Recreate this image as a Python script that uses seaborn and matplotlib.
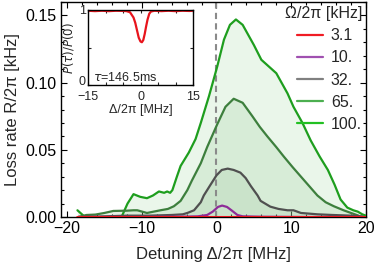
import numpy as np
import pandas as pd
import matplotlib
matplotlib.use("Agg")
import matplotlib.pyplot as plt
from matplotlib.lines import Line2D
from matplotlib.ticker import MultipleLocator
import seaborn as sns

# loss rate vs detuning for each Rabi frequency (kHz)
omega_labels = ['3.1', '10.', '32.', '65.', '100.']

d3 = [-18.7, -10.0, 0.0, 10.0, 20.0]
r3 = [0.0003, 0.0003, 0.0003, 0.0003, 0.0003]

d10 = [-18.5, -10.0, -4.0, -2.5, -1.25, -0.5, 0.2, 0.75, 1.4, 2.0, 2.8, 3.5, 6.0, 12.0, 19.5]
r10 = [0.0, 0.0, 0.0003, 0.0005, 0.0015, 0.004, 0.0075, 0.0085, 0.0075, 0.005, 0.0015, 0.0005, 0.0002, 0.0, 0.0]

d32 = [-18.5, -15.0, -12.0, -9.0, -6.0, -4.5, -3.9, -3.0, -2.1, -1.7, -0.8, 0.0, 0.7, 1.5, 2.3,
       3.2, 3.9, 4.6, 5.5, 5.9, 7.2, 8.3, 9.5, 10.3, 11.3, 13.5, 15.5, 18.0, 19.5]
r32 = [0.0, 0.0005, 0.001, 0.001, 0.0015, 0.002, 0.003, 0.005, 0.011, 0.016, 0.024, 0.031, 0.035, 0.036, 0.035,
       0.033, 0.029, 0.023, 0.016, 0.012, 0.0077, 0.006, 0.005, 0.005, 0.003, 0.002, 0.0015, 0.001, 0.0005]

d65 = [-18.5, -17.4, -16.2, -15.0, -13.8, -12.0, -11.1, -10.6, -9.3, -8.4, -7.5, -6.5, -5.7, -4.8, -3.9,
       -3.3, -2.1, -1.25, 0.1, 1.2, 2.3, 3.5, 4.8, 5.8, 6.8, 8.0, 9.0, 10.2, 11.3, 12.4, 13.5, 14.6,
       15.7, 17.0, 18.0, 19.0]
r65 = [0.0, 0.0015, 0.0018, 0.003, 0.0045, 0.0047, 0.005, 0.005, 0.003, 0.004, 0.005, 0.006, 0.008, 0.012, 0.020,
       0.027, 0.040, 0.052, 0.069, 0.082, 0.088, 0.085, 0.075, 0.067, 0.060, 0.052, 0.045, 0.037, 0.030, 0.023,
       0.016, 0.011, 0.008, 0.005, 0.003, 0.001]

d100 = [-18.6, -17.6, -16.5, -14.0, -12.7, -11.9, -11.1, -10.2, -9.3, -8.5, -7.7, -7.0, -6.6, -6.2, -5.9,
        -5.3, -4.8, -3.7, -2.8, -2.1, -1.0, 0.1, 1.0, 1.8, 2.6, 3.5, 4.3, 5.0, 6.0, 7.2, 8.0, 8.6, 9.5,
        10.3, 11.5, 12.6, 13.8, 14.9, 15.8, 16.6, 17.5, 18.3, 18.9, 19.5, 20.0]
r100 = [0.005, 0.000, -0.002, -0.001, 0.000, 0.010, 0.017, 0.015, 0.014, 0.016, 0.019, 0.018, 0.019, 0.018, 0.020,
        0.030, 0.038, 0.048, 0.058, 0.070, 0.090, 0.112, 0.132, 0.143, 0.147, 0.143, 0.135, 0.128, 0.117, 0.111,
        0.107, 0.101, 0.092, 0.082, 0.070, 0.057, 0.045, 0.035, 0.024, 0.013, 0.007, 0.005, 0.004, 0.002, 0.001]

# inset: survival P(tau)/P(0) at Omega/2pi = 3.1 kHz
d_in = [-15, -13, -11, -9, -7, -5, -4, -3, -2, -1.5, -1, -0.5, 0, 0.4, 0.8, 1.2, 1.6, 2.0, 2.5, 3, 4, 6, 8, 10, 12, 14, 15]
p_in = [0.99, 0.985, 0.99, 0.985, 0.99, 0.988, 0.985, 0.97, 0.9, 0.83, 0.73, 0.63, 0.58, 0.57, 0.6, 0.68, 0.78,
        0.87, 0.95, 0.98, 0.99, 0.985, 0.99, 0.985, 0.99, 0.987, 0.99]

line_colors = ['#e8141c', '#8e2c98', '#505050', '#3d7f3d', '#1e9e1e']
legend_colors = ['#f01c24', '#a050b0', '#808080', '#4caf50', '#22c022']

series = [(d3, r3), (d10, r10), (d32, r32), (d65, r65), (d100, r100)]
frames = []
for lab, (d, r) in zip(omega_labels, series):
    frames.append(pd.DataFrame({'detuning': d, 'rate': r, 'omega': lab}))
df = pd.concat(frames, ignore_index=True)

sns.set_style("ticks")
plt.rcParams['font.family'] = ['Liberation Sans', 'DejaVu Sans']
plt.rcParams['mathtext.fontset'] = 'dejavusans'

fig = plt.figure(figsize=(3.74, 2.69), dpi=100)
ax = fig.add_axes([61 / 374, 1 - 217 / 269, 305 / 374, 215 / 269])

# shaded areas under the curves
fill_colors = [None, None, '#9ab894', '#7fbf7f', '#8fd08f']
for (d, r), fc in zip(series, fill_colors):
    if fc is not None:
        ax.fill_between(d, 0, np.clip(r, 0, None), color=fc, alpha=0.18, lw=0)

ax.axvline(0, color='#8a8a8a', ls=(0, (3, 2)), lw=1.5, zorder=1)

widths = [2.2, 1.6, 1.6, 1.6, 1.6]
for lab, col, lw in zip(omega_labels[::-1], line_colors[::-1], widths[::-1]):
    sns.lineplot(data=df[df['omega'] == lab], x='detuning', y='rate', color=col,
                 lw=lw, ax=ax, legend=False, zorder=3, sort=False)

ax.set_xlim(-20.8, 20.0)
ax.set_ylim(0, 0.16)
ax.xaxis.set_minor_locator(MultipleLocator(2))
ax.yaxis.set_minor_locator(MultipleLocator(0.01))
ax.set_yticks([0, 0.05, 0.10, 0.15])
ax.set_yticklabels(['0.00', '0.05', '0.10', '0.15'])
ax.set_xticks([-20, -10, 0, 10, 20])
ax.set_xticklabels(['\u221220', '\u221210', '0', '10', '20'])
ax.tick_params(which='both', direction='in', top=True, right=True, labelsize=11.5, width=0.8, colors='black')
ax.tick_params(which='major', length=4.5, pad=3)
ax.tick_params(which='minor', length=2.5)
for s in ax.spines.values():
    s.set_linewidth(1.0)
    s.set_color('black')
ax.set_xlabel('Detuning \u0394/2\u03c0 [MHz]', fontsize=12, labelpad=8)
ax.set_ylabel('Loss rate R/2\u03c0 [kHz]', fontsize=12, labelpad=4)

handles = [Line2D([], [], color=c, lw=1.6) for c in legend_colors]
leg = ax.legend(handles, omega_labels, title='\u03a9/2\u03c0 [kHz]', loc='upper right',
                frameon=False, fontsize=11.5, title_fontsize=11.5, handlelength=1.6,
                labelspacing=0.45, borderaxespad=0.05, handletextpad=0.5, borderpad=0.2)
leg._legend_box.align = 'right'

# inset
axi = fig.add_axes([88 / 374, 1 - 85 / 269, 105 / 374, 75 / 269])
axi.set_facecolor('white')
sns.lineplot(x=d_in, y=p_in, color='#e8141c', lw=1.6, ax=axi)
axi.set_xlim(-15, 15)
axi.set_ylim(0, 1.0)
axi.set_xticks([-15, -10, -5, 0, 5, 10, 15])
axi.set_xticklabels(['\u221215', '', '', '0', '', '', '15'])
axi.set_yticks([0, 0.5, 1])
axi.set_yticklabels(['0', '', '1'])
axi.tick_params(direction='in', labelsize=9, length=2.5, width=0.8, top=True, right=True)
axi.tick_params(axis='x', pad=4)
axi.tick_params(axis='y', pad=1.5)
axi.get_yticklabels()[0].set_va('baseline')
for s in axi.spines.values():
    s.set_linewidth(1.0)
    s.set_color('black')
axi.set_xlabel('\u0394/2\u03c0 [MHz]', fontsize=9, labelpad=1)
axi.set_ylabel(r'$P(\tau)/P(0)$', fontsize=8.5, labelpad=2)
axi.text(-13.5, 0.05, r'$\tau$=146.5ms', fontsize=9)

fig.savefig('out.png', dpi=100)
